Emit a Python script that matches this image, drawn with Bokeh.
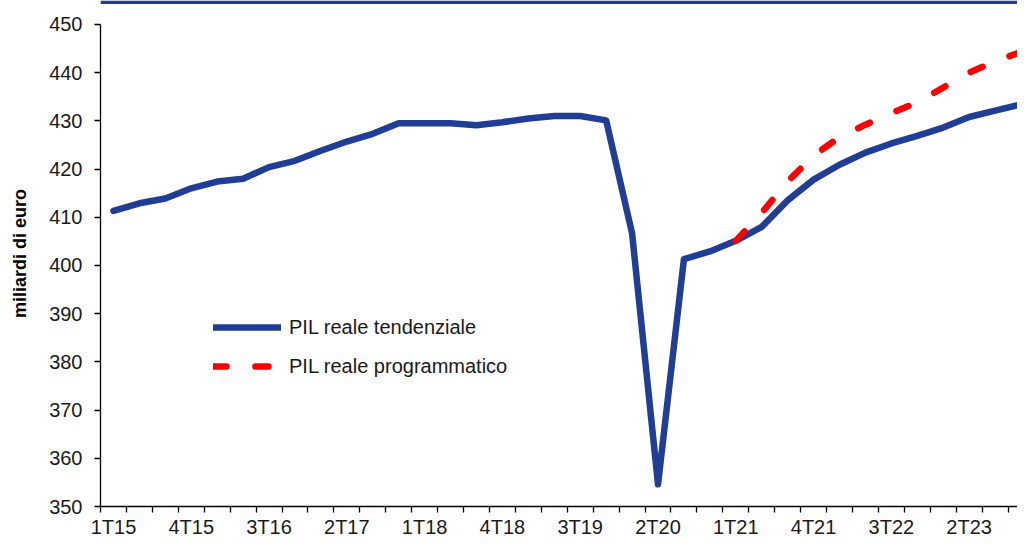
from bokeh.plotting import figure
from bokeh.models import (Range1d, FixedTicker, Legend, LegendItem, BoxAnnotation,
                          LinearAxis)
from bokeh.embed import file_html
from bokeh.resources import INLINE

quarters = ["1T15", "2T15", "3T15", "4T15", "1T16", "2T16", "3T16", "4T16",
            "1T17", "2T17", "3T17", "4T17", "1T18", "2T18", "3T18", "4T18",
            "1T19", "2T19", "3T19", "4T19", "1T20", "2T20", "3T20", "4T20",
            "1T21", "2T21", "3T21", "4T21", "1T22", "2T22", "3T22", "4T22",
            "1T23", "2T23", "3T23", "4T23"]

pil_tendenziale = [411.3, 412.9, 413.9, 416.0, 417.4, 418.0, 420.4, 421.7,
                   423.8, 425.7, 427.3, 429.5, 429.5, 429.5, 429.1, 429.7,
                   430.5, 431.0, 431.0, 430.1, 406.7, 354.6, 401.3, 402.9,
                   405.1, 408.0, 413.5, 417.8, 420.9, 423.4, 425.3, 426.9,
                   428.6, 430.8, 432.1, 433.4]

prog_quarters = ["1T21", "2T21", "3T21", "4T21", "1T22", "2T22", "3T22", "4T22",
                 "1T23", "2T23", "3T23", "4T23"]
pil_programmatico = [405.1, 410.9, 417.4, 422.8, 426.6, 429.2, 431.6, 433.8,
                     436.9, 440.0, 442.3, 444.3]

y_ticks = [350, 360, 370, 380, 390, 400, 410, 420, 430, 440, 450]
label_every = 3

FONT = "Liberation Sans"
BLUE = "#213E96"
RED = "#FF0000"

W, H = 1017, 540
LEFT, BOTTOM = 100, 32
frame_h = H - BOTTOM
px_per_unit = (frame_h - 24) / 100.0
y_top = 450 + 24 / px_per_unit
x_end = (W - LEFT) / 25.93

# category centres
x_t = [quarters.index(q) + 0.5 for q in quarters]
x_p = [quarters.index(q) + 0.5 for q in prog_quarters]

p = figure(width=W, height=H, output_backend="svg", toolbar_location=None,
           x_range=Range1d(0, x_end), y_range=Range1d(350, y_top),
           min_border_left=LEFT, min_border_right=0, min_border_top=0,
           min_border_bottom=BOTTOM, x_axis_type=None, y_axis_type=None)
p.outline_line_color = None
p.grid.visible = False
p.background_fill_color = "white"
p.border_fill_color = "white"

# top decorative bar
p.add_layout(BoxAnnotation(top=y_top, bottom=y_top - 3.5 / px_per_unit,
                           fill_color=BLUE, fill_alpha=1, line_color=None))

# y axis
yax = LinearAxis(ticker=FixedTicker(ticks=y_ticks), bounds=(350, 450))
yax.axis_label = "miliardi di euro"
yax.axis_label_text_font = FONT
yax.axis_label_text_font_style = "bold"
yax.axis_label_text_font_size = "18px"
yax.axis_label_text_color = "black"
yax.axis_label_standoff = 16
yax.major_label_text_font = FONT
yax.major_label_text_font_size = "20px"
yax.major_label_text_color = "#1a1a1a"
yax.major_label_standoff = 12
yax.major_tick_out = 6
yax.major_tick_in = 0
yax.minor_tick_out = 0
yax.minor_tick_in = 0
yax.axis_line_color = "black"
yax.axis_line_width = 1.3
yax.major_tick_line_color = "black"
yax.major_tick_line_width = 1.3
p.add_layout(yax, "left")

# x axis: labels at every 3rd category centre, ticks at category boundaries
lab_pos = [i + 0.5 for i in range(0, len(quarters), label_every)]
overrides = {i + 0.5: quarters[i] for i in range(0, len(quarters), label_every)}
xax = LinearAxis(ticker=FixedTicker(ticks=lab_pos,
                                    minor_ticks=list(range(len(quarters) + 1))))
xax.major_label_overrides = overrides
xax.major_label_text_font = FONT
xax.major_label_text_font_size = "20px"
xax.major_label_text_line_height = 1.0
xax.major_label_text_color = "#1a1a1a"
xax.major_label_standoff = 3
xax.major_tick_out = 0
xax.major_tick_in = 0
xax.minor_tick_out = 6
xax.minor_tick_in = 0
xax.minor_tick_line_color = "black"
xax.minor_tick_line_width = 1.3
xax.axis_line_color = "black"
xax.axis_line_width = 1.3
p.add_layout(xax, "below")

r1 = p.line(x_t, pil_tendenziale, line_color=BLUE, line_width=6.5,
            line_join="round", line_cap="round")
r2 = p.line(x_p, pil_programmatico, line_color=RED, line_width=6.5,
            line_dash="13 29", line_join="round", line_cap="round")

legend = Legend(items=[LegendItem(label="PIL reale tendenziale", renderers=[r1]),
                       LegendItem(label="PIL reale programmatico", renderers=[r2])],
                location=(113, frame_h - 380), orientation="vertical",
                glyph_width=68, glyph_height=24, label_height=24,
                label_standoff=8, spacing=15, padding=0, margin=0,
                border_line_color=None, background_fill_alpha=0,
                label_text_font=FONT, label_text_font_size="20px",
                label_text_color="#1a1a1a")
p.add_layout(legend, "center")

open("out.html", "w").write(file_html(p, INLINE))
